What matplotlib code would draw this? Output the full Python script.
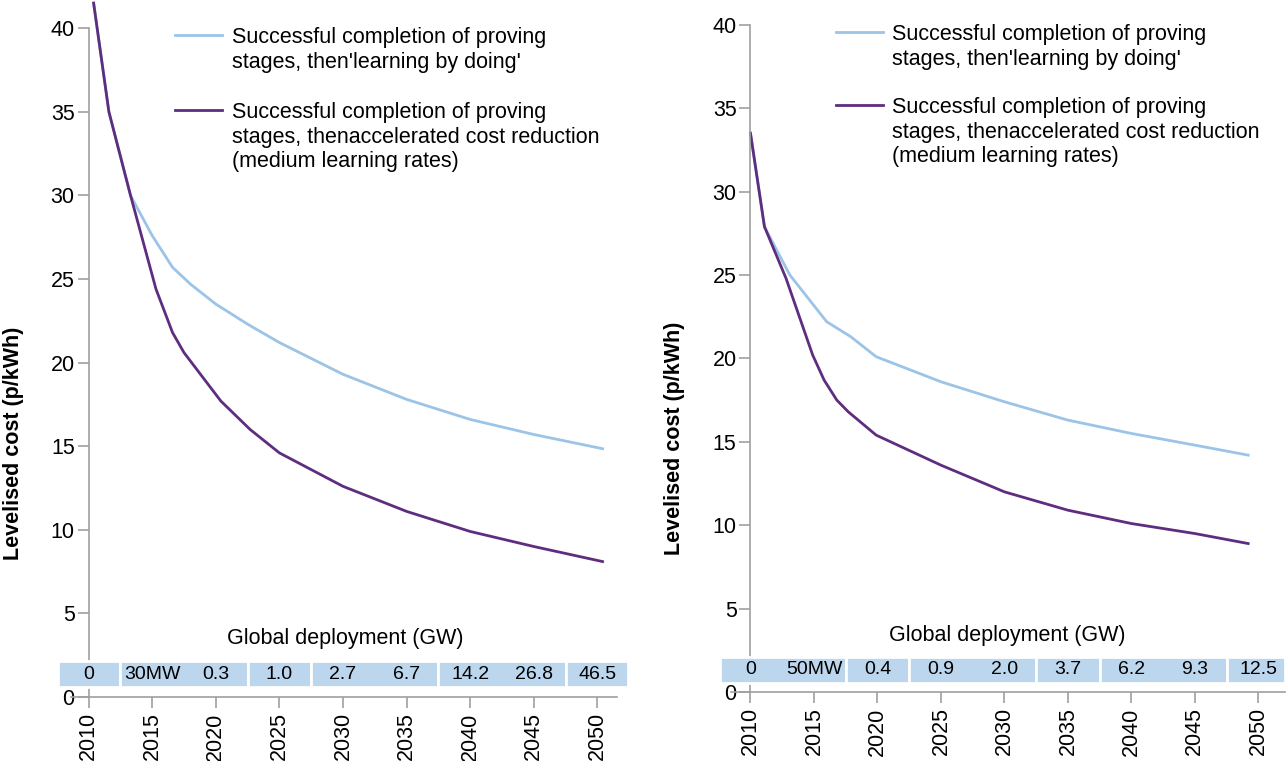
import matplotlib
matplotlib.use("Agg")
import matplotlib.pyplot as plt
from matplotlib.patches import Rectangle

plt.rcParams['font.family'] = ['Liberation Sans', 'DejaVu Sans']

# left panel
left_years_blue = [2010.4, 2011.6, 2013.3, 2015.0, 2016.6, 2018.0, 2020.0, 2022.5, 2025.0, 2030.0, 2035.0, 2040.0, 2045.0, 2050.4]
left_cost_blue = [41.5, 35.0, 30.0, 27.6, 25.7, 24.7, 23.5, 22.3, 21.2, 19.3, 17.8, 16.6, 15.7, 14.85]
left_years_purple = [2010.4, 2011.6, 2013.3, 2015.3, 2016.6, 2017.5, 2020.4, 2022.7, 2025.0, 2030.0, 2035.0, 2040.0, 2045.0, 2050.4]
left_cost_purple = [41.5, 35.0, 30.0, 24.4, 21.8, 20.6, 17.7, 16.0, 14.6, 12.6, 11.1, 9.9, 9.0, 8.1]
left_deploy_labels = ['0', '30MW', '0.3', '1.0', '2.7', '6.7', '14.2', '26.8', '46.5']
left_cell_edges = [2007.6, 2012.5, 2022.5, 2027.5, 2037.5, 2047.5, 2052.4]

# right panel
right_years_blue = [2010.0, 2011.1, 2013.1, 2016.0, 2017.9, 2019.9, 2025.0, 2030.0, 2035.0, 2040.0, 2045.0, 2049.2]
right_cost_blue = [33.5, 27.9, 25.0, 22.2, 21.3, 20.1, 18.6, 17.4, 16.3, 15.5, 14.8, 14.2]
right_years_purple = [2010.0, 2011.1, 2012.8, 2014.9, 2015.8, 2016.8, 2017.7, 2019.9, 2025.0, 2030.0, 2035.0, 2040.0, 2045.0, 2049.2]
right_cost_purple = [33.5, 27.9, 24.8, 20.2, 18.7, 17.5, 16.8, 15.4, 13.6, 12.0, 10.9, 10.1, 9.5, 8.9]
right_deploy_labels = ['0', '50MW', '0.4', '0.9', '2.0', '3.7', '6.2', '9.3', '12.5']
right_cell_edges = [2007.6, 2017.5, 2022.5, 2032.5, 2037.5, 2047.5, 2052.1]

label_years = [2010, 2015, 2020, 2025, 2030, 2035, 2040, 2045, 2050]
legend_blue = "Successful completion of proving\nstages, then'learning by doing'"
legend_purple = "Successful completion of proving\nstages, thenaccelerated cost reduction\n(medium learning rates)"

BLUE = '#9cc4e6'
PURPLE = '#5e2d7f'
BAND = '#bcd6ee'
GREY = '#a0a0a0'
FS = 15.5

fig = plt.figure(figsize=(12.88, 7.61), dpi=100)
W, H = 1288, 761


def panel(px0, px1, py0, xlim, yb, opts, xaxis_span, yrs_b, c_b, yrs_p, c_p, labels, edges, leg_x):
    ax = fig.add_axes([px0 / W, (H - py0) / H, (px1 - px0) / W, py0 / H])
    ax.set_xlim(*xlim)
    ax.set_ylim(0, py0 / yb)
    ax.plot(yrs_b, c_b, color=BLUE, lw=2)
    ax.plot(yrs_p, c_p, color=PURPLE, lw=2)
    for s in ['top', 'right']:
        ax.spines[s].set_visible(False)
    ax.spines['left'].set_position(('data', 2010))
    ax.spines['left'].set_bounds(0, 40)
    ax.spines['bottom'].set_bounds(*xaxis_span)
    for s in ['left', 'bottom']:
        ax.spines[s].set_color(GREY)
        ax.spines[s].set_linewidth(1.2)
    ax.set_yticks(range(0, 41, 5))
    ax.set_xticks(label_years)
    ax.set_xticklabels([str(y) for y in label_years], rotation=90, fontsize=FS)
    ax.tick_params(axis='y', labelsize=FS, length=8, color=GREY, width=1.2, pad=2)
    ax.tick_params(axis='x', length=8, color=GREY, width=1.2, pad=3)
    ax.set_ylabel('Levelised cost (p/kWh)', fontsize=FS, fontweight='bold')
    ax.yaxis.set_label_coords(opts['ylab_x'], opts['ylab_y'])
    # deployment band
    lo, hi = opts['band']
    for a, b in zip(edges[:-1], edges[1:]):
        ax.add_patch(Rectangle((a, lo), b - a, hi - lo, facecolor=BAND, edgecolor='white', lw=2, clip_on=False, zorder=3))
    for yr, lab in zip(label_years, labels):
        ax.text(yr, (lo + hi) / 2, lab, ha='center', va='center', fontsize=14, zorder=4)
    ax.text(2030.2, opts['title_y'], 'Global deployment (GW)', ha='center', va='center', fontsize=15.5)
    # legend
    tr = ax.transAxes
    for ly, txt, col in [(opts['leg'][0], legend_blue, BLUE), (opts['leg'][1], legend_purple, PURPLE)]:
        ax.plot([leg_x, leg_x + 0.083], [ly, ly], color=col, lw=2, transform=tr, clip_on=False)
        ax.text(leg_x + 0.1, ly + 0.011, txt, transform=tr, ha='left', va='top', fontsize=FS, linespacing=1.2)
    return ax


# left: y=0 at pixel 697, 16.72 px per unit
left_opts = {'band': (0.6, 2.15), 'ylab_x': -0.06, 'ylab_y': 0.364, 'title_y': 3.5,
             'leg': (1 - 35 / 697, 1 - 110 / 697)}
right_opts = {'band': (0.54, 2.1), 'ylab_x': -0.062, 'ylab_y': 0.367, 'title_y': 3.36,
              'leg': (1 - 32 / 692, 1 - 105 / 692)}
panel(58, 628, 697, (2007.6, 2052.4), 16.72, left_opts, (2008.6, 2051.5),
      left_years_blue, left_cost_blue, left_years_purple, left_cost_purple, left_deploy_labels, left_cell_edges, 0.205)
panel(720, 1285, 692, (2007.6, 2052.1), 16.68, right_opts, (2008.5, 2052.1),
      right_years_blue, right_cost_blue, right_years_purple, right_cost_purple, right_deploy_labels, right_cell_edges, 0.205)

fig.savefig('out.png', dpi=100)
